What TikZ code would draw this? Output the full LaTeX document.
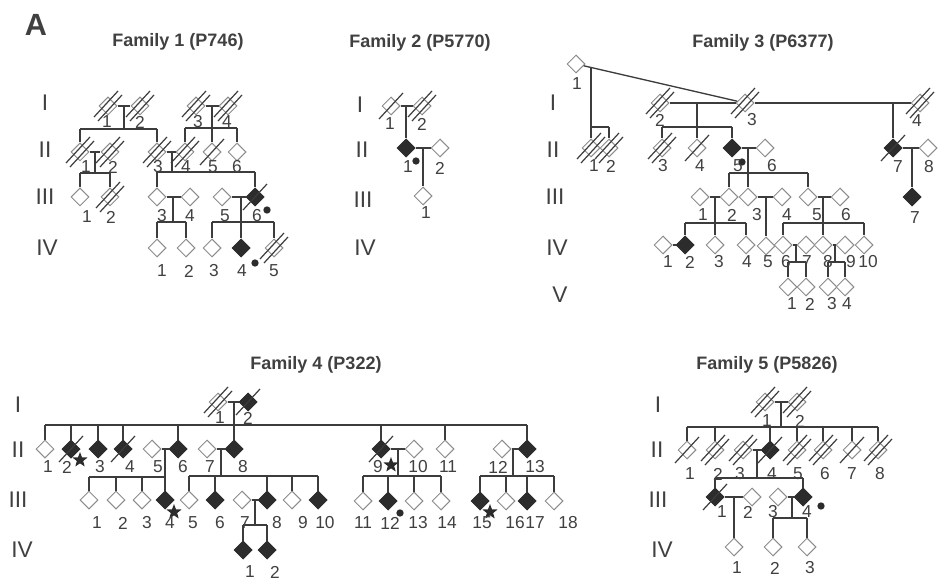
\documentclass[tikz,border=0pt]{standalone}
\usepackage{fontspec}
\setmainfont{Liberation Sans}
\usetikzlibrary{shapes.geometric}
\definecolor{ink}{HTML}{3C3C3C}
\definecolor{lightc}{HTML}{8C8C8C}
\definecolor{fillc}{HTML}{2C2C2C}
\definecolor{txt}{HTML}{404040}
\newcommand\dcs[1]{\draw[sl] ([shift={(-12,13)}]#1.center) -- ([shift={(12,-13)}]#1.center);}
\newcommand\dcd[1]{\draw[sl] ([shift={(-14,11)}]#1.center) -- ([shift={(10,-15)}]#1.center);\draw[sl] ([shift={(-10,15)}]#1.center) -- ([shift={(14,-11)}]#1.center);}
\newcommand\dropto[2]{\draw[ln] (#2.north |- #1) -- (#2.north);}
\newcommand\lb[4]{\node[lab] (#1) at (#2,#3) {#4};}
\newcommand\gn[4]{\node[gen] (#1) at (#2,#3) {#4};}
\begin{document}
\begin{tikzpicture}[x=0.75pt,y=-0.75pt,
  ind/.style={diamond,minimum width=13.5pt,minimum height=13.5pt,inner sep=0pt,draw=lightc,line width=0.75pt,fill=white},
  aff/.style={ind,draw=fillc,fill=fillc},
  ln/.style={draw=ink,line width=1pt},
  sl/.style={draw=ink,line width=0.9pt},
  lab/.style={font=\fontsize{13}{13}\selectfont,text=txt,inner sep=0pt},
  gen/.style={font=\fontsize{17}{17}\selectfont,text=txt,inner sep=0pt},
  ttl/.style={font=\bfseries\fontsize{13.5}{14}\selectfont,text=txt,inner sep=0pt},
  dotc/.style={circle,fill=fillc,minimum size=5.5pt,inner sep=0pt},
  starc/.style={star,star points=5,star point ratio=2.4,fill=fillc,minimum size=12pt,inner sep=0pt}]
\useasboundingbox (0,0) rectangle (940,581);
\node[font=\bfseries\fontsize{23}{23}\selectfont,text=txt,inner sep=0pt] (panelA) at (36,25) {A};
% ---------------- Family 1 ----------------
\node[ttl] (t1) at (178,42) {Family 1 (P746)};
\gn{g1a}{45}{103}{I}\gn{g1b}{45}{150}{II}\gn{g1c}{45}{197}{III}\gn{g1d}{47}{248}{IV}
\node[ind] (a11) at (108,106) {};
\node[ind] (a12) at (140,106) {};
\node[ind] (a13) at (196,106) {};
\node[ind] (a14) at (228,106) {};
\node[ind] (a21) at (80,152) {};
\node[ind] (a22) at (110,152) {};
\node[ind] (a23) at (157,152) {};
\node[ind] (a24) at (185,152) {};
\node[ind] (a25) at (212,152) {};
\node[ind] (a26) at (237,152) {};
\node[ind] (a31) at (80,197) {};
\node[ind] (a32) at (110,197) {};
\node[ind] (a33) at (157,197) {};
\node[ind] (a34) at (190,197) {};
\node[ind] (a35) at (222,197) {};
\node[aff] (a36) at (255,197) {};
\node[ind] (a41) at (157,248) {};
\node[ind] (a42) at (186,248) {};
\node[ind] (a43) at (212,248) {};
\node[aff] (a44) at (241,248) {};
\node[ind] (a45) at (274,248) {};
\coordinate (am1) at (124,106); \coordinate (as1) at (0,129);
\coordinate (am2) at (212,106); \coordinate (as2) at (0,128);
\coordinate (am3) at (95,152);  \coordinate (as3) at (0,173);
\coordinate (am4) at (172,152); \coordinate (as4) at (0,172);
\coordinate (am5) at (173,197); \coordinate (as5) at (0,222);
\coordinate (am6) at (241,197); \coordinate (as6) at (0,222);
\draw[ln] (a11) -- (a12); \draw[ln] (am1) -- (am1 |- as1);
\draw[ln] (a21.north |- as1) -- (a23.north |- as1); \dropto{as1}{a21}\dropto{as1}{a23}
\draw[ln] (a13) -- (a14); \draw[ln] (am2) -- (am2 |- as2);
\draw[ln] (a24.north |- as2) -- (a26.north |- as2); \dropto{as2}{a24}\dropto{as2}{a25}\dropto{as2}{a26}
\draw[ln] (a21) -- (a22); \draw[ln] (am3) -- (am3 |- as3);
\draw[ln] (a31.north |- as3) -- (a32.north |- as3); \dropto{as3}{a31}\dropto{as3}{a32}
\draw[ln] (a23) -- (a24); \draw[ln] (am4) -- (am4 |- as4);
\draw[ln] (a33.north |- as4) -- (a36.north |- as4); \dropto{as4}{a33}\dropto{as4}{a36}
\draw[ln] (a33) -- (a34); \draw[ln] (am5) -- (am5 |- as5);
\draw[ln] (a41.north |- as5) -- (a42.north |- as5); \dropto{as5}{a41}\dropto{as5}{a42}
\draw[ln] (a35) -- (a36); \draw[ln] (am6) -- (am6 |- as6);
\draw[ln] (a43.north |- as6) -- (a45.north |- as6); \dropto{as6}{a43}\dropto{as6}{a44}\dropto{as6}{a45}
\dcd{a11}\dcd{a12}\dcd{a13}\dcd{a14}\dcd{a21}\dcd{a22}\dcd{a23}\dcd{a24}\dcs{a25}\dcd{a32}\dcs{a36}\dcd{a45}
\node[dotc] (ad1) at (267,210) {}; \node[dotc] (ad2) at (255,263) {};
\lb{la11}{107}{122}{1}\lb{la12}{140}{122}{2}\lb{la13}{198}{122}{3}\lb{la14}{227}{122}{4}
\lb{la21}{86}{167}{1}\lb{la22}{113}{167}{2}\lb{la23}{158}{167}{3}\lb{la24}{186}{167}{4}\lb{la25}{213}{167}{5}\lb{la26}{237}{167}{6}
\lb{la31}{87}{217}{1}\lb{la32}{111}{217}{2}\lb{la33}{162}{216}{3}\lb{la34}{190}{216}{4}\lb{la35}{225}{216}{5}\lb{la36}{257}{216}{6}
\lb{la41}{162}{271}{1}\lb{la42}{189}{271}{2}\lb{la43}{214}{271}{3}\lb{la44}{242}{271}{4}\lb{la45}{274}{271}{5}
% ---------------- Family 2 ----------------
\node[ttl] (t2) at (420,43) {Family 2 (P5770)};
\gn{g2a}{360}{105}{I}\gn{g2b}{362}{150}{II}\gn{g2c}{363}{200}{III}\gn{g2d}{365}{248}{IV}
\node[ind] (b11) at (391,106) {};
\node[ind] (b12) at (422,106) {};
\node[aff] (b21) at (406,148) {};
\node[ind] (b22) at (440,148) {};
\node[ind] (b31) at (423,196) {};
\coordinate (bm1) at (406,106); \coordinate (bm2) at (423,148);
\draw[ln] (b11) -- (b12); \draw[ln] (bm1) -- (b21.north);
\draw[ln] (b21) -- (b22); \draw[ln] (bm2) -- (b31.north);
\dcs{b11}\dcd{b12}
\node[dotc] (bd1) at (416,161) {};
\lb{lb11}{390}{124}{1}\lb{lb12}{422}{124}{2}\lb{lb21}{408}{167}{1}\lb{lb22}{440}{168}{2}\lb{lb31}{426}{213}{1}
% ---------------- Family 3 ----------------
\node[ttl] (t3) at (763,43) {Family 3 (P6377)};
\gn{g3a}{553}{103}{I}\gn{g3b}{553}{150}{II}\gn{g3c}{555}{197}{III}\gn{g3d}{557}{248}{IV}\gn{g3e}{560}{295}{V}
\node[ind] (c11) at (576,64) {};
\node[ind] (c12) at (660,103) {};
\node[ind] (c13) at (745,103) {};
\node[ind] (c14) at (920,103) {};
\node[ind] (c21) at (591,148) {};
\node[ind] (c22) at (609,148) {};
\node[ind] (c23) at (662,148) {};
\node[ind] (c24) at (697,148) {};
\node[aff] (c25) at (732,148) {};
\node[ind] (c26) at (765,148) {};
\node[aff] (c27) at (893,148) {};
\node[ind] (c28) at (928,148) {};
\node[ind] (c31) at (700,197) {};
\node[ind] (c32) at (729,197) {};
\node[ind] (c33) at (748,197) {};
\node[ind] (c34) at (782,197) {};
\node[ind] (c35) at (808,197) {};
\node[ind] (c36) at (840,197) {};
\node[aff] (c37) at (912,197) {};
\node[ind] (c41) at (663,245) {};
\node[aff] (c42) at (685,245) {};
\node[ind] (c43) at (715,245) {};
\node[ind] (c44) at (746,245) {};
\node[ind] (c45) at (766,246) {};
\node[ind] (c46) at (783,245) {};
\node[ind] (c47) at (806,245) {};
\node[ind] (c48) at (823,245) {};
\node[ind] (c49) at (845,245) {};
\node[ind] (c410) at (864,245) {};
\node[ind] (c51) at (788,287) {};
\node[ind] (c52) at (806,287) {};
\node[ind] (c53) at (828,287) {};
\node[ind] (c54) at (845,287) {};
\coordinate (cm1) at (591,67.5); \coordinate (cs1) at (0,127);
\coordinate (cm2) at (697,103);  \coordinate (cs2) at (0,127);
\coordinate (cm3) at (893,103);
\coordinate (cm4) at (748,148);  \coordinate (cs4) at (0,173);
\coordinate (cm5) at (912,148);
\coordinate (cm6) at (715,197);  \coordinate (cs6) at (0,223);
\coordinate (cm7) at (766,197);
\coordinate (cm8) at (823,197);  \coordinate (cs8) at (0,223);
\coordinate (cm9) at (796,245);  \coordinate (cs9) at (0,262);
\coordinate (cm10) at (835,245); \coordinate (cs10) at (0,262);
\draw[ln] (c11) -- (c13);
\draw[ln] (cm1) -- (cm1 |- cs1); \draw[ln] (cm1 |- cs1) -- (c22.north |- cs1); \dropto{cs1}{c21}\dropto{cs1}{c22}
\draw[ln] (c12) -- (c13); \draw[ln] (cm2) -- (cm2 |- cs2);
\draw[ln] (c23.north |- cs2) -- (c25.north |- cs2); \dropto{cs2}{c23}\dropto{cs2}{c24}\dropto{cs2}{c25}
\draw[ln] (c13) -- (c14); \draw[ln] (cm3) -- (c27.north);
\draw[ln] (c27) -- (c28); \draw[ln] (cm5) -- (c37.north);
\draw[ln] (c25) -- (c26); \draw[ln] (cm4) -- (c33.north);
\draw[ln] (c32.north |- cs4) -- (c35.north |- cs4); \dropto{cs4}{c32}\dropto{cs4}{c35}
\draw[ln] (c31) -- (c32); \draw[ln] (cm6) -- (cm6 |- cs6);
\draw[ln] (c42.north |- cs6) -- (c44.north |- cs6); \dropto{cs6}{c42}\dropto{cs6}{c43}\dropto{cs6}{c44}
\draw[ln] (c41) -- (c42);
\draw[ln] (c33) -- (c34); \draw[ln] (cm7) -- (c45.north);
\draw[ln] (c35) -- (c36); \draw[ln] (cm8) -- (c48.north);
\draw[ln] (c46.north |- cs8) -- (c410.north |- cs8); \dropto{cs8}{c46}\dropto{cs8}{c410}
\draw[ln] (c46) -- (c47); \draw[ln] (cm9) -- (cm9 |- cs9);
\draw[ln] (c51.north |- cs9) -- (c52.north |- cs9); \dropto{cs9}{c51}\dropto{cs9}{c52}
\draw[ln] (c48) -- (c49); \draw[ln] (cm10) -- (cm10 |- cs10);
\draw[ln] (c53.north |- cs10) -- (c54.north |- cs10); \dropto{cs10}{c53}\dropto{cs10}{c54}
\dcd{c12}\dcd{c13}\dcd{c14}\dcd{c21}\dcd{c22}\dcd{c23}\dcs{c24}\dcs{c27}
\node[dotc] (cd1) at (742,162) {};
\lb{lc11}{577}{84}{1}\lb{lc12}{660}{120}{2}\lb{lc13}{752}{120}{3}\lb{lc14}{917}{121}{4}
\lb{lc21}{594}{166}{1}\lb{lc22}{611}{166}{2}\lb{lc23}{663}{166}{3}\lb{lc24}{700}{166}{4}\lb{lc25}{738}{166}{5}\lb{lc26}{772}{166}{6}\lb{lc27}{898}{167}{7}\lb{lc28}{929}{167}{8}
\lb{lc31}{703}{215}{1}\lb{lc32}{732}{215}{2}\lb{lc33}{757}{215}{3}\lb{lc34}{787}{215}{4}\lb{lc35}{817}{215}{5}\lb{lc36}{846}{215}{6}\lb{lc37}{915}{218}{7}
\lb{lc41}{668}{262}{1}\lb{lc42}{690}{262}{2}\lb{lc43}{719}{262}{3}\lb{lc44}{747}{262}{4}\lb{lc45}{768}{262}{5}\lb{lc46}{786}{262}{6}\lb{lc47}{807}{262}{7}\lb{lc48}{828}{262}{8}\lb{lc49}{851}{262}{9}\lb{lc410}{868}{262}{10}
\lb{lc51}{792}{304}{1}\lb{lc52}{810}{304}{2}\lb{lc53}{832}{304}{3}\lb{lc54}{847}{304}{4}
% ---------------- Family 4 ----------------
\node[ttl] (t4) at (316,365) {Family 4 (P322)};
\gn{g4a}{18}{405}{I}\gn{g4b}{18}{450}{II}\gn{g4c}{18}{500}{III}\gn{g4d}{22}{550}{IV}
\node[ind] (d11) at (218,402) {};
\node[aff] (d12) at (248,402) {};
\node[ind] (d21) at (45,449) {};
\node[aff] (d22) at (71,449) {};
\node[aff] (d23) at (98,449) {};
\node[aff] (d24) at (123,449) {};
\node[ind] (d25) at (152,449) {};
\node[aff] (d26) at (178,449) {};
\node[ind] (d27) at (207,449) {};
\node[aff] (d28) at (234,449) {};
\node[aff] (d29) at (381,449) {};
\node[ind] (d210) at (414,449) {};
\node[ind] (d211) at (445,449) {};
\node[ind] (d212) at (502,449) {};
\node[aff] (d213) at (527,449) {};
\node[ind] (d31) at (89,500) {};
\node[ind] (d32) at (116,500) {};
\node[ind] (d33) at (142,500) {};
\node[aff] (d34) at (165,500) {};
\node[ind] (d35) at (189,500) {};
\node[aff] (d36) at (215,500) {};
\node[ind] (d37) at (242,500) {};
\node[aff] (d38) at (267,500) {};
\node[ind] (d39) at (292,500) {};
\node[aff] (d310) at (318,500) {};
\node[ind] (d311) at (363,501) {};
\node[aff] (d312) at (388,501) {};
\node[ind] (d313) at (414,501) {};
\node[ind] (d314) at (441,501) {};
\node[aff] (d315) at (480,501) {};
\node[ind] (d316) at (506,501) {};
\node[aff] (d317) at (527,501) {};
\node[ind] (d318) at (554,501) {};
\node[aff] (d41) at (243,550) {};
\node[aff] (d42) at (267,550) {};
\coordinate (dm1) at (234,402); \coordinate (ds1) at (0,425);
\coordinate (dm2) at (165,449); \coordinate (ds2) at (0,477);
\coordinate (dm3) at (221,449); \coordinate (ds3) at (0,476);
\coordinate (dm4) at (255,500); \coordinate (ds4) at (0,525);
\coordinate (dm5) at (398,449); \coordinate (ds5) at (0,476);
\coordinate (dm6) at (513,449); \coordinate (ds6) at (0,476);
\draw[ln] (d11) -- (d12); \draw[ln] (dm1) -- (d28.north);
\draw[ln] (d21.north |- ds1) -- (d213.north |- ds1);
\dropto{ds1}{d21}\dropto{ds1}{d22}\dropto{ds1}{d23}\dropto{ds1}{d24}\dropto{ds1}{d26}\dropto{ds1}{d29}\dropto{ds1}{d211}\dropto{ds1}{d213}
\draw[ln] (d25) -- (d26); \draw[ln] (dm2) -- (d34.north);
\draw[ln] (d31.north |- ds2) -- (d34.north |- ds2); \dropto{ds2}{d31}\dropto{ds2}{d32}\dropto{ds2}{d33}
\draw[ln] (d27) -- (d28); \draw[ln] (dm3) -- (dm3 |- ds3);
\draw[ln] (d35.north |- ds3) -- (d310.north |- ds3);
\dropto{ds3}{d35}\dropto{ds3}{d36}\dropto{ds3}{d38}\dropto{ds3}{d39}\dropto{ds3}{d310}
\draw[ln] (d37) -- (d38); \draw[ln] (dm4) -- (dm4 |- ds4);
\draw[ln] (d41.north |- ds4) -- (d42.north |- ds4); \dropto{ds4}{d41}\dropto{ds4}{d42}
\draw[ln] (d29) -- (d210); \draw[ln] (dm5) -- (dm5 |- ds5);
\draw[ln] (d311.north |- ds5) -- (d314.north |- ds5);
\dropto{ds5}{d311}\dropto{ds5}{d312}\dropto{ds5}{d313}\dropto{ds5}{d314}
\draw[ln] (d212) -- (d213); \draw[ln] (dm6) -- (dm6 |- ds6);
\draw[ln] (d315.north |- ds6) -- (d318.north |- ds6);
\dropto{ds6}{d315}\dropto{ds6}{d316}\dropto{ds6}{d317}\dropto{ds6}{d318}
\dcd{d11}\dcs{d12}\dcs{d22}\dcs{d24}\dcs{d29}
\node[starc] (ds22) at (80,460) {};
\node[starc] (ds34) at (174,512) {};
\node[starc] (ds29) at (391,465) {};
\node[starc] (ds315) at (490,512) {};
\node[dotc] (dd312) at (400,513) {};
\lb{ld11}{220}{418}{1}\lb{ld12}{248}{418}{2}
\lb{ld21}{48}{467}{1}\lb{ld22}{67}{467}{2}\lb{ld23}{100}{467}{3}\lb{ld24}{130}{467}{4}\lb{ld25}{158}{467}{5}\lb{ld26}{183}{467}{6}\lb{ld27}{210}{467}{7}\lb{ld28}{243}{467}{8}
\lb{ld29}{378}{467}{9}\lb{ld210}{418}{467}{10}\lb{ld211}{448}{467}{11}\lb{ld212}{498}{467}{12}\lb{ld213}{535}{467}{13}
\lb{ld31}{97}{523}{1}\lb{ld32}{123}{523}{2}\lb{ld33}{147}{523}{3}\lb{ld34}{170}{523}{4}\lb{ld35}{193}{523}{5}\lb{ld36}{220}{523}{6}\lb{ld37}{245}{523}{7}\lb{ld38}{277}{523}{8}\lb{ld39}{303}{523}{9}\lb{ld310}{325}{523}{10}
\lb{ld311}{363}{523}{11}\lb{ld312}{390}{523}{12}\lb{ld313}{418}{523}{13}\lb{ld314}{447}{523}{14}\lb{ld315}{482}{523}{15}\lb{ld316}{515}{523}{16}\lb{ld317}{535}{523}{17}\lb{ld318}{568}{523}{18}
\lb{ld41}{250}{572}{1}\lb{ld42}{275}{572}{2}
% ---------------- Family 5 ----------------
\node[ttl] (t5) at (767,365) {Family 5 (P5826)};
\gn{g5a}{658}{405}{I}\gn{g5b}{657}{450}{II}\gn{g5c}{658}{500}{III}\gn{g5d}{662}{550}{IV}
\node[ind] (e11) at (765,402) {};
\node[ind] (e12) at (797,402) {};
\node[ind] (e21) at (687,450) {};
\node[ind] (e22) at (715,450) {};
\node[ind] (e23) at (743,450) {};
\node[aff] (e24) at (770,450) {};
\node[ind] (e25) at (797,450) {};
\node[ind] (e26) at (823,450) {};
\node[ind] (e27) at (852,450) {};
\node[ind] (e28) at (878,450) {};
\node[aff] (e31) at (715,497) {};
\node[ind] (e32) at (752,497) {};
\node[ind] (e33) at (778,497) {};
\node[aff] (e34) at (803,497) {};
\node[ind] (e41) at (734,547) {};
\node[ind] (e42) at (773,547) {};
\node[ind] (e43) at (807,547) {};
\coordinate (em1) at (781,402); \coordinate (es1) at (0,427);
\coordinate (em2) at (757,450); \coordinate (es2) at (0,478);
\coordinate (em3) at (734,497);
\coordinate (em4) at (792,497); \coordinate (es4) at (0,518);
\draw[ln] (e11) -- (e12); \draw[ln] (em1) -- (em1 |- es1);
\draw[ln] (e21.north |- es1) -- (e28.north |- es1);
\dropto{es1}{e21}\dropto{es1}{e22}\dropto{es1}{e24}\dropto{es1}{e25}\dropto{es1}{e26}\dropto{es1}{e27}\dropto{es1}{e28}
\draw[ln] (e23) -- (e24); \draw[ln] (em2) -- (em2 |- es2);
\draw[ln] (e31.north |- es2) -- (e34.north |- es2); \dropto{es2}{e31}\dropto{es2}{e34}
\draw[ln] (e31) -- (e32); \draw[ln] (em3) -- (e41.north);
\draw[ln] (e33) -- (e34); \draw[ln] (em4) -- (em4 |- es4);
\draw[ln] (e42.north |- es4) -- (e43.north |- es4); \dropto{es4}{e42}\dropto{es4}{e43}
\dcd{e11}\dcd{e12}\dcs{e21}\dcd{e22}\dcd{e23}\dcs{e24}\dcd{e25}\dcd{e26}\dcs{e27}\dcd{e28}\dcs{e31}
\node[dotc] (ed1) at (821,506) {};
\lb{le11}{767}{421}{1}\lb{le12}{800}{421}{2}
\lb{le21}{690}{474}{1}\lb{le22}{718}{474}{2}\lb{le23}{740}{474}{3}\lb{le24}{772}{474}{4}\lb{le25}{798}{474}{5}\lb{le26}{825}{474}{6}\lb{le27}{852}{474}{7}\lb{le28}{880}{474}{8}
\lb{le31}{722}{512}{1}\lb{le32}{748}{512}{2}\lb{le33}{773}{512}{3}\lb{le34}{807}{512}{4}
\lb{le41}{737}{568}{1}\lb{le42}{775}{568}{2}\lb{le43}{810}{568}{3}
\end{tikzpicture}
\end{document}
